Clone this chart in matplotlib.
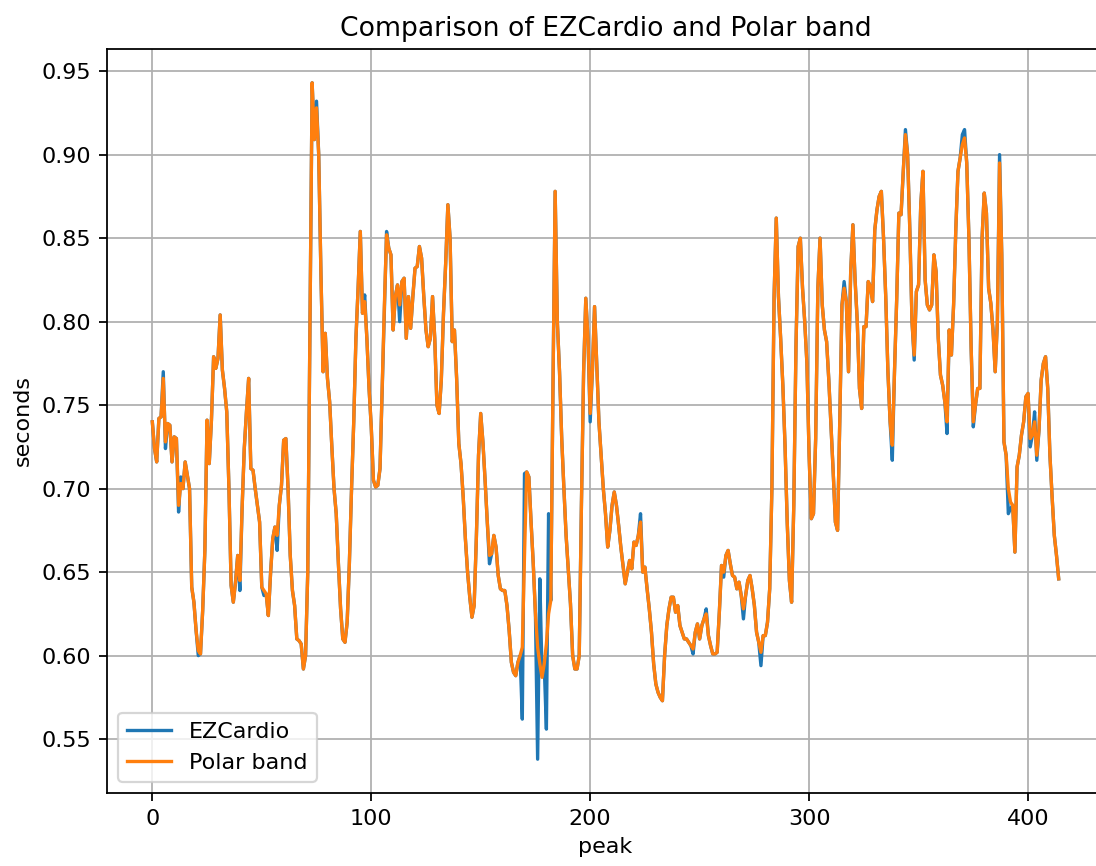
import numpy as np
import matplotlib.pyplot as plt

# R-R intervals (seconds) per detected peak
polar = [
    0.740, 0.724, 0.716, 0.742, 0.743, 0.766, 0.728, 0.739, 0.738, 0.716,
    0.731, 0.730, 0.690, 0.703, 0.700, 0.716, 0.708, 0.700, 0.641, 0.632,
    0.615, 0.603, 0.601, 0.627, 0.663, 0.741, 0.715, 0.741, 0.779, 0.772,
    0.778, 0.804, 0.771, 0.760, 0.746, 0.700, 0.642, 0.632, 0.644, 0.660,
    0.645, 0.688, 0.724, 0.746, 0.766, 0.712, 0.711, 0.700, 0.690, 0.680,
    0.641, 0.639, 0.637, 0.624, 0.649, 0.670, 0.677, 0.672, 0.690, 0.702,
    0.729, 0.730, 0.700, 0.660, 0.639, 0.630, 0.610, 0.609, 0.607, 0.592,
    0.600, 0.650, 0.800, 0.943, 0.909, 0.928, 0.900, 0.830, 0.770, 0.793,
    0.766, 0.752, 0.725, 0.700, 0.685, 0.655, 0.628, 0.610, 0.608, 0.620,
    0.655, 0.700, 0.740, 0.790, 0.820, 0.854, 0.805, 0.812, 0.790, 0.760,
    0.737, 0.705, 0.701, 0.702, 0.712, 0.760, 0.810, 0.852, 0.844, 0.840,
    0.795, 0.815, 0.822, 0.810, 0.824, 0.826, 0.790, 0.815, 0.796, 0.815,
    0.832, 0.833, 0.845, 0.838, 0.815, 0.795, 0.785, 0.790, 0.815, 0.790,
    0.750, 0.745, 0.765, 0.805, 0.835, 0.870, 0.850, 0.788, 0.795, 0.766,
    0.727, 0.715, 0.695, 0.670, 0.650, 0.635, 0.623, 0.630, 0.670, 0.720,
    0.745, 0.728, 0.705, 0.680, 0.660, 0.661, 0.672, 0.665, 0.648, 0.640,
    0.639, 0.639, 0.630, 0.615, 0.596, 0.590, 0.588, 0.596, 0.600, 0.605,
    0.660, 0.710, 0.707, 0.680, 0.655, 0.625, 0.605, 0.595, 0.587, 0.595,
    0.607, 0.625, 0.633, 0.760, 0.878, 0.800, 0.770, 0.730, 0.700, 0.672,
    0.652, 0.631, 0.600, 0.592, 0.592, 0.600, 0.690, 0.770, 0.814, 0.790,
    0.745, 0.770, 0.809, 0.775, 0.740, 0.720, 0.700, 0.685, 0.665, 0.675,
    0.690, 0.698, 0.690, 0.678, 0.665, 0.654, 0.643, 0.650, 0.657, 0.652,
    0.668, 0.666, 0.672, 0.680, 0.650, 0.653, 0.640, 0.628, 0.614, 0.595,
    0.583, 0.578, 0.575, 0.573, 0.600, 0.618, 0.628, 0.635, 0.635, 0.626,
    0.630, 0.618, 0.614, 0.610, 0.610, 0.608, 0.606, 0.604, 0.614, 0.619,
    0.610, 0.618, 0.622, 0.625, 0.612, 0.606, 0.601, 0.601, 0.602, 0.626,
    0.654, 0.650, 0.660, 0.663, 0.655, 0.648, 0.647, 0.640, 0.644, 0.636,
    0.628, 0.636, 0.645, 0.648, 0.640, 0.630, 0.614, 0.608, 0.602, 0.612,
    0.612, 0.620, 0.640, 0.700, 0.815, 0.862, 0.815, 0.790, 0.762, 0.726,
    0.680, 0.645, 0.632, 0.690, 0.785, 0.845, 0.850, 0.820, 0.800, 0.775,
    0.720, 0.682, 0.685, 0.730, 0.820, 0.850, 0.810, 0.795, 0.788, 0.765,
    0.738, 0.710, 0.680, 0.675, 0.740, 0.810, 0.820, 0.812, 0.770, 0.830,
    0.858, 0.825, 0.800, 0.760, 0.748, 0.797, 0.797, 0.824, 0.821, 0.812,
    0.855, 0.867, 0.875, 0.878, 0.850, 0.815, 0.770, 0.740, 0.726, 0.770,
    0.813, 0.865, 0.864, 0.890, 0.912, 0.900, 0.855, 0.800, 0.780, 0.818,
    0.822, 0.870, 0.890, 0.825, 0.810, 0.807, 0.810, 0.840, 0.830, 0.790,
    0.768, 0.762, 0.752, 0.740, 0.795, 0.780, 0.810, 0.855, 0.890, 0.898,
    0.906, 0.910, 0.895, 0.850, 0.785, 0.740, 0.750, 0.760, 0.760, 0.850,
    0.877, 0.865, 0.820, 0.811, 0.795, 0.770, 0.800, 0.895, 0.840, 0.728,
    0.720, 0.700, 0.692, 0.690, 0.662, 0.713, 0.720, 0.732, 0.740, 0.755,
    0.757, 0.730, 0.732, 0.740, 0.720, 0.735, 0.765, 0.775, 0.779, 0.760,
    0.720, 0.695, 0.672, 0.660, 0.646,
]

# peaks where the EZCardio reading differs from the Polar band
ez_idx = [5, 6, 12, 13, 21, 40, 51, 57, 75, 97, 107, 113, 154,
          169, 170, 176, 177, 178, 180, 181, 200, 223, 247, 253, 261,
          270, 278, 316, 338, 344, 348, 363, 370, 371, 375, 387, 391,
          392, 401, 403, 404]
ez_val = [0.770, 0.724, 0.686, 0.707, 0.600, 0.639, 0.636, 0.663, 0.932,
          0.816, 0.854, 0.800, 0.655, 0.562, 0.709, 0.538, 0.646, 0.590,
          0.556, 0.685, 0.740, 0.685, 0.601, 0.628, 0.647, 0.622, 0.594,
          0.824, 0.717, 0.915, 0.777, 0.733, 0.912, 0.915, 0.737, 0.900,
          0.685, 0.688, 0.725, 0.746, 0.717]

polar = np.array(polar)
ezcardio = polar.copy()
ezcardio[ez_idx] = ez_val

fig = plt.figure(figsize=(1096 / 160, 866 / 160), dpi=160)
# axes runs past the right edge of the picture, like the cropped original
ax = fig.add_axes([107 / 1096, 73 / 866, 997 / 1096, 744 / 866])
ax.plot(ezcardio, label='EZCardio')
ax.plot(polar, label='Polar band')
ax.set_title('Comparison of EZCardio and Polar band')
ax.set_xlabel('peak')
ax.set_ylabel('seconds')
ax.grid(True)
ax.spines['right'].set_visible(False)
ax.legend(loc='lower left')
plt.savefig('out.png', dpi=160)
